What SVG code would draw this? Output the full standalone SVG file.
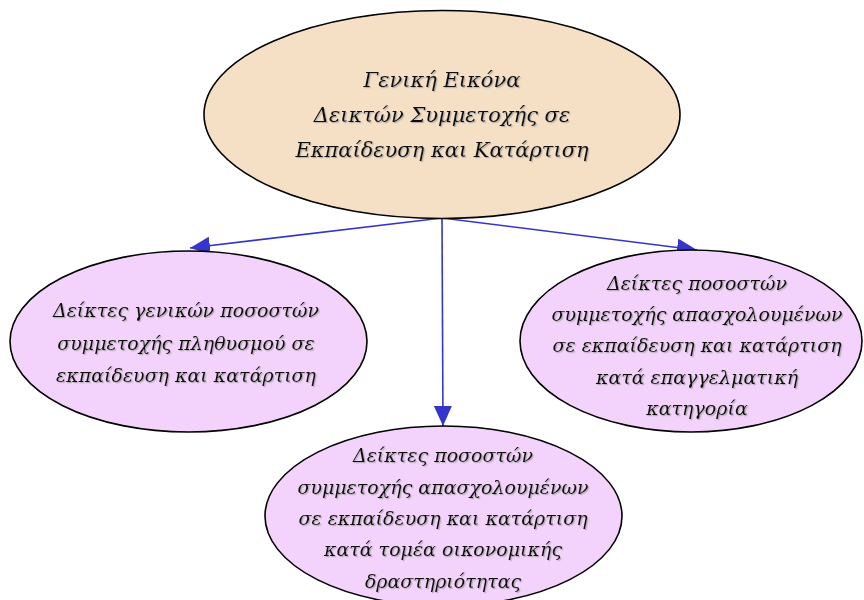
<svg xmlns="http://www.w3.org/2000/svg" width="864" height="600" viewBox="0 0 864 600">
<defs>
<style>
.node ellipse{stroke:#000;stroke-width:1.6}
.top ellipse{fill:#F5E0C6}
.sub ellipse{fill:#F3D3FB}
text{font-family:"DejaVu Serif",serif;font-style:italic;fill:#111;text-anchor:middle;filter:url(#sh)}
.top text{font-size:21px}
.sub text{font-size:19px}
.edge{stroke:#3535CC;stroke-width:1.6;fill:none;marker-end:url(#ah)}
</style>
<filter id="sh" x="-10%" y="-30%" width="120%" height="160%">
<feDropShadow dx="1.2" dy="1.2" stdDeviation="0.4" flood-color="#999" flood-opacity="0.7"/>
</filter>
<marker id="ah" viewBox="0 0 20 18" refX="20" refY="9" markerWidth="20" markerHeight="18" markerUnits="userSpaceOnUse" orient="auto">
<path d="M0,0 L20,9 L0,18 Z" fill="#3535CC"/>
</marker>
</defs>
<g id="connectors">
<path class="edge" d="M442,218 L190,248"/>
<path class="edge" d="M442,218 L443,426"/>
<path class="edge" d="M442,218 L697,250"/>
</g>
<g id="n0" class="node top">
<ellipse cx="442" cy="114.5" rx="238" ry="104"/>
<text x="442" y="87">Γενική Εικόνα</text>
<text x="442" y="122">Δεικτών Συμμετοχής σε</text>
<text x="442" y="157">Εκπαίδευση και Κατάρτιση</text>
</g>
<g id="n1" class="node sub">
<ellipse cx="188.5" cy="341.5" rx="178.5" ry="90.5"/>
<text x="186" y="317">Δείκτες γενικών ποσοστών</text>
<text x="186" y="350">συμμετοχής πληθυσμού σε</text>
<text x="186" y="382">εκπαίδευση και κατάρτιση</text>
</g>
<g id="n2" class="node sub">
<ellipse cx="691" cy="341" rx="171" ry="91"/>
<text x="697" y="290">Δείκτες ποσοστών</text>
<text x="697" y="321">συμμετοχής απασχολουμένων</text>
<text x="697" y="352">σε εκπαίδευση και κατάρτιση</text>
<text x="697" y="384">κατά επαγγελματική</text>
<text x="697" y="415">κατηγορία</text>
</g>
<g id="n3" class="node sub">
<ellipse cx="443.5" cy="516" rx="178.5" ry="90"/>
<text x="443" y="462">Δείκτες ποσοστών</text>
<text x="443" y="494">συμμετοχής απασχολουμένων</text>
<text x="443" y="525">σε εκπαίδευση και κατάρτιση</text>
<text x="443" y="556">κατά τομέα οικονομικής</text>
<text x="443" y="588">δραστηριότητας</text>
</g>
</svg>
